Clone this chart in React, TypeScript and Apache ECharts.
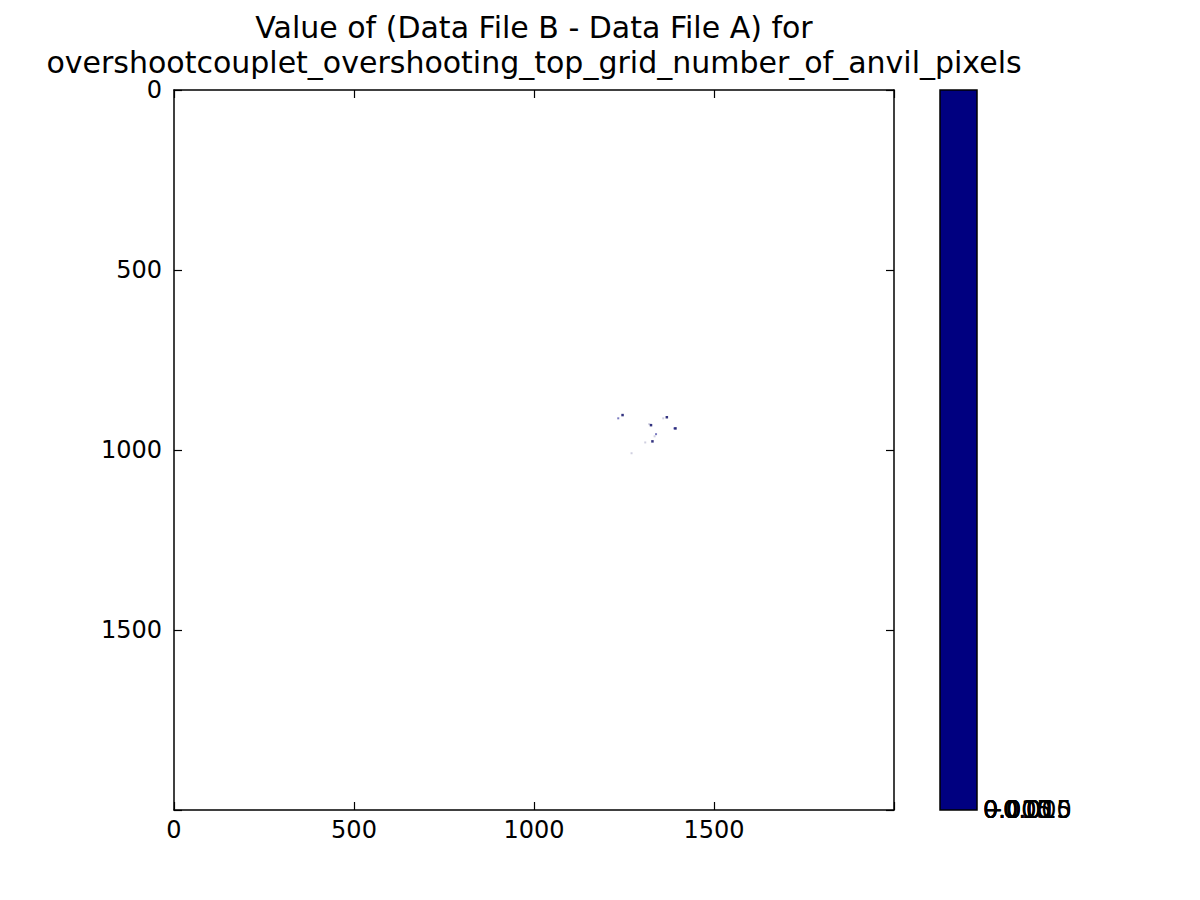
import React, { useEffect, useRef } from "react";
import * as echarts from "echarts";

const titleLines = [
  "Value of (Data File B - Data File A) for",
  "overshootcouplet_overshooting_top_grid_number_of_anvil_pixels",
];
const xTicks = [0, 500, 1000, 1500];
const yTicks = [0, 500, 1000, 1500];
const colorbarLabels = ["\u22120.015", "\u22120.010", "\u22120.005", "0.000", "0.005", "0.010", "0.015"];

// [x, y] grid positions of non-empty pixels, grouped by shade
const darkPixels: [number, number][] = [
  [1246, 903],
  [1369, 909],
  [1325, 931],
  [1393, 940],
  [1329, 976],
];
const mediumPixels: [number, number][] = [
  [1234, 912],
  [1390, 940],
  [1339, 956],
];
const lightPixels: [number, number][] = [
  [1359, 912],
  [1320, 928],
  [1335, 962],
  [1309, 979],
  [1271, 1009],
];

const FONT = "DejaVu Sans";

export default function App() {
  const ref = useRef<HTMLDivElement>(null);
  useEffect(() => {
    if (!ref.current) return;
    const chart = echarts.init(ref.current, undefined, { renderer: "svg" });
    const gridLeft = 174;
    const gridTop = 90;
    const gridSize = 720;
    const axisCommon = {
      type: "value",
      min: 0,
      max: 2000,
      interval: 500,
      splitLine: { show: false },
      axisLine: { show: true, onZero: false, lineStyle: { color: "#000", width: 1.5 } },
      axisTick: { show: true, inside: true, length: 8, lineStyle: { color: "#000", width: 1.2 } },
    };
    const labelFmt = (v: number) => (xTicks.includes(v) ? String(v) : "");
    const ylabelFmt = (v: number) => (yTicks.includes(v) ? String(v) : "");
    chart.setOption({
      animation: false,
      backgroundColor: "#fff",
      textStyle: { fontFamily: FONT },
      grid: { left: gridLeft, top: gridTop, width: gridSize, height: gridSize },
      xAxis: [
        {
          ...axisCommon,
          position: "bottom",
          axisLabel: { show: true, color: "#000", fontSize: 24, fontFamily: FONT, margin: 8, formatter: labelFmt },
        },
        {
          ...axisCommon,
          position: "top",
          axisLabel: { show: false },
        },
      ],
      yAxis: [
        {
          ...axisCommon,
          inverse: true,
          position: "left",
          axisLabel: { show: true, color: "#000", fontSize: 24, fontFamily: FONT, margin: 12, formatter: ylabelFmt },
        },
        {
          ...axisCommon,
          inverse: true,
          position: "right",
          axisLabel: { show: false },
        },
      ],
      series: [
        {
          type: "scatter",
          data: lightPixels,
          symbol: "rect",
          symbolSize: 2,
          itemStyle: { color: "#c4c4d8" },
          silent: true,
        },
        {
          type: "scatter",
          data: mediumPixels,
          symbol: "rect",
          symbolSize: 2,
          itemStyle: { color: "#5a5ab0" },
          silent: true,
        },
        {
          type: "scatter",
          data: darkPixels,
          symbol: "rect",
          symbolSize: 2.5,
          itemStyle: { color: "#000060" },
          silent: true,
        },
      ],
      graphic: [
        {
          type: "text",
          style: {
            text: titleLines[0],
            x: 534,
            y: 27,
            align: "center",
            verticalAlign: "middle",
            font: `30px "${FONT}"`,
            fill: "#000",
          },
        },
        {
          type: "text",
          style: {
            text: titleLines[1],
            x: 534,
            y: 62,
            align: "center",
            verticalAlign: "middle",
            font: `30px "${FONT}"`,
            fill: "#000",
          },
        },
        {
          type: "rect",
          shape: { x: 940, y: 90, width: 37, height: 720 },
          style: { fill: "#000080", stroke: "#000", lineWidth: 1.5 },
        },
        ...colorbarLabels.map((t) => ({
          type: "text",
          style: {
            text: t,
            x: 983,
            y: 810,
            align: "left",
            verticalAlign: "middle",
            font: `24px "${FONT}"`,
            fill: "#000",
          },
        })),
      ],
    });
    return () => chart.dispose();
  }, []);
  return (
    <div
      ref={ref}
      style={{ position: "absolute", left: 0, top: 0, width: 1200, height: 900 }}
    />
  );
}
